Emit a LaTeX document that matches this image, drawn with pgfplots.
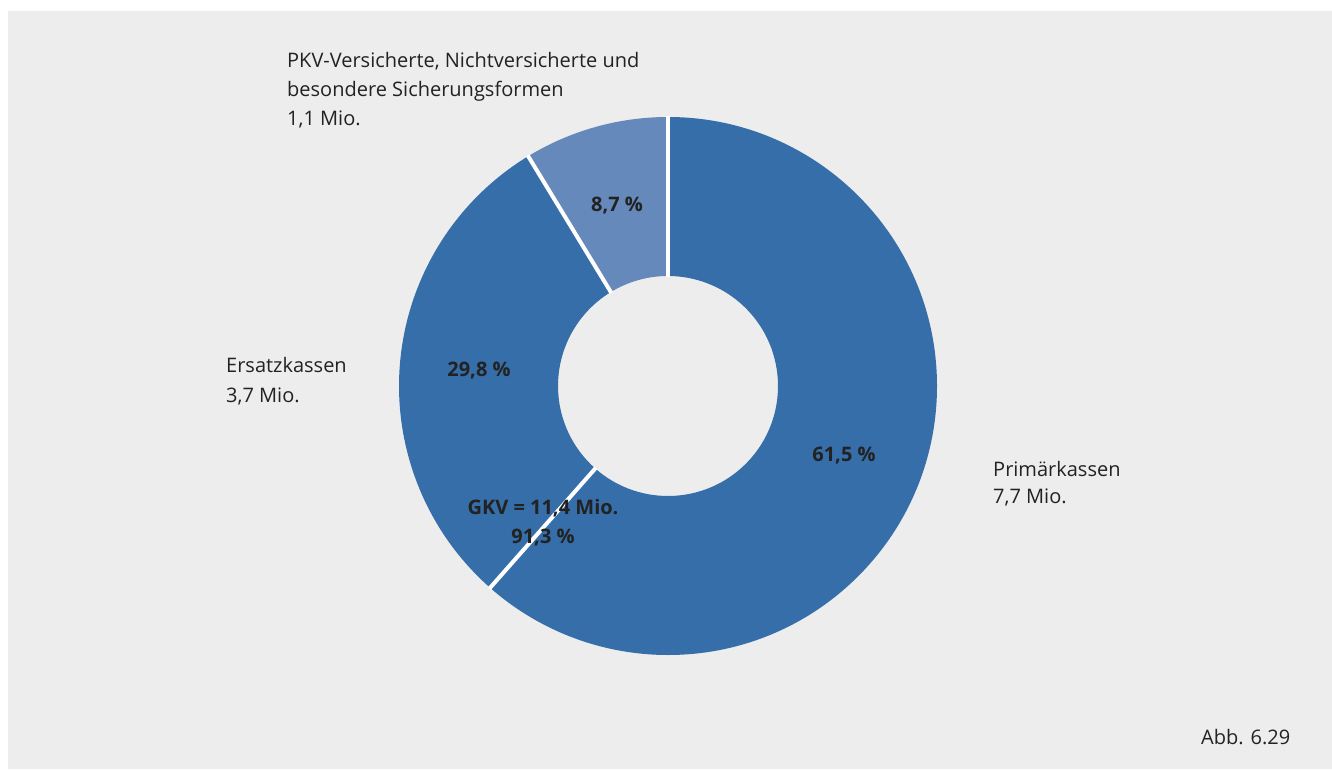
\documentclass[border=0pt]{standalone}
\usepackage{fontspec}
\setmainfont{Open Sans}
\usepackage{pgfplots}
\usepackage{pgfplotstable}
\pgfplotsset{compat=1.18}
\definecolor{bg}{HTML}{EDEDED}
\definecolor{darkblue}{HTML}{366EA9}
\definecolor{lightblue}{HTML}{6689BB}
\definecolor{txt}{HTML}{222222}

\pgfplotstableread{
idx value
0 61.5
1 29.8
2 8.7
}\datatable

\newcommand\wedgefill[3]{%
  \fill[#3] ([shift={(#1:269pt)}]c) arc[start angle=#1, end angle=#2, radius=269pt]
    -- ([shift={(#2:110pt)}]c) arc[start angle=#2, end angle=#1, radius=110pt] -- cycle;}
\newcommand\sep[1]{%
  \draw[white, line width=4pt] ([shift={(#1:109pt)}]c) -- ([shift={(#1:270pt)}]c);}
\newcommand\fs{\fontsize{20}{24}\selectfont}

\begin{document}%
\pgfplotstablegetelem{0}{value}\of\datatable\let\va\pgfplotsretval%
\pgfplotstablegetelem{1}{value}\of\datatable\let\vb\pgfplotsretval%
\pgfplotstablegetelem{2}{value}\of\datatable\let\vc\pgfplotsretval%
\pgfmathsetmacro\aA{90}%
\pgfmathsetmacro\aB{\aA-3.6*\va}%
\pgfmathsetmacro\aC{\aB-3.6*\vb}%
\pgfmathsetmacro\aD{\aC-3.6*\vc}%
\begin{tikzpicture}
\begin{axis}[hide axis, scale only axis, width=1332pt, height=769pt,
  xmin=0, xmax=1332, ymin=0, ymax=769, clip=false]
\fill[white] (axis cs:0,0) rectangle (axis cs:1332,769);
\fill[bg] (axis cs:8,0) rectangle (axis cs:1332,758);
\coordinate (c) at (axis cs:668,383);
\wedgefill{\aA}{\aB}{darkblue}
\wedgefill{\aB}{\aC}{darkblue}
\wedgefill{\aC}{\aD}{lightblue}
\sep{\aA}\sep{\aB}\sep{\aC}
\begin{scope}[every node/.style={text=txt, inner sep=0pt, font=\fs}]
\node[anchor=base west] at (axis cs:287,701) {PKV-Versicherte, Nichtversicherte und};
\node[anchor=base west] at (axis cs:287,672) {besondere Sicherungsformen};
\node[anchor=base west] at (axis cs:287,643) {1,1 Mio.};
\node[anchor=base west] at (axis cs:226,396) {Ersatzkassen};
\node[anchor=base west] at (axis cs:226,366) {3,7 Mio.};
\node[anchor=base west] at (axis cs:993,293) {Primärkassen};
\node[anchor=base west] at (axis cs:993,266) {7,7 Mio.};
\node[anchor=base west] at (axis cs:1201,25) {Abb. 6.29};
\node[anchor=base, font=\fs\bfseries] at (axis cs:617,557) {8,7 \%};
\node[anchor=base, font=\fs\bfseries] at (axis cs:479,392) {29,8 \%};
\node[anchor=base, font=\fs\bfseries] at (axis cs:844,308) {61,5 \%};
\node[anchor=base, font=\fs\bfseries] at (axis cs:543,255) {GKV = 11,4 Mio.};
\node[anchor=base, font=\fs\bfseries] at (axis cs:543,226) {91,3 \%};
\end{scope}
\end{axis}
\end{tikzpicture}%
\end{document}
